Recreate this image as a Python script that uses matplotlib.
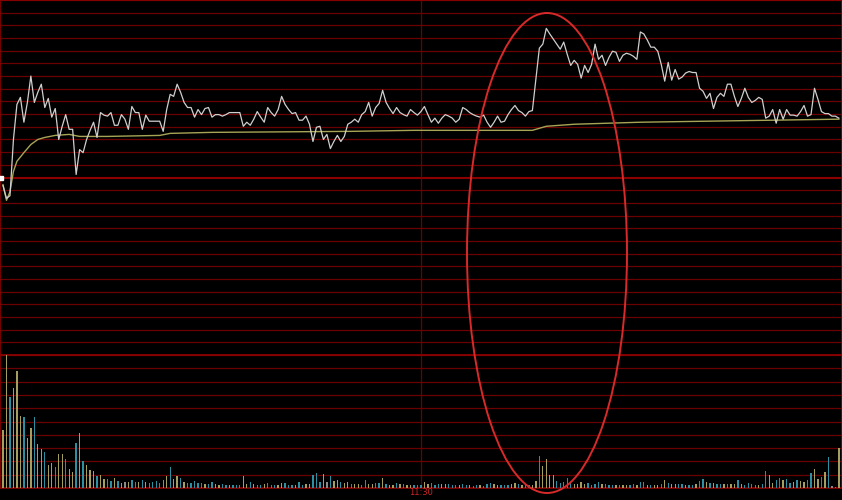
import matplotlib.pyplot as plt
from matplotlib.patches import Ellipse

# intraday price, % change vs previous close, one value per minute (241 minutes)
price = [
    -0.16, -0.41, -0.36, 0.75, 1.44, 1.58, 1.09, 1.48, 2.00, 1.48,
    1.68, 1.84, 1.38, 1.56, 1.19, 1.36, 0.75, 1.01, 1.24, 0.95,
    0.95, 0.06, 0.55, 0.49, 0.75, 0.93, 1.09, 0.79, 1.28, 1.23,
    1.21, 1.28, 1.03, 1.03, 1.24, 1.15, 0.95, 1.40, 1.28, 1.28,
    0.95, 1.23, 1.11, 1.11, 1.11, 1.11, 0.91, 1.34, 1.64, 1.60,
    1.84, 1.68, 1.48, 1.38, 1.38, 1.19, 1.34, 1.24, 1.36, 1.38,
    1.19, 1.24, 1.24, 1.21, 1.24, 1.28, 1.28, 1.28, 1.28, 1.01,
    1.09, 1.03, 1.15, 1.30, 1.19, 1.09, 1.38, 1.28, 1.21, 1.34,
    1.60, 1.44, 1.34, 1.26, 1.28, 1.13, 1.13, 1.21, 1.05, 0.71,
    0.99, 1.01, 0.75, 0.85, 0.57, 0.71, 0.83, 0.71, 0.81, 1.05,
    1.09, 1.15, 1.09, 1.24, 1.30, 1.48, 1.21, 1.38, 1.46, 1.72,
    1.48, 1.36, 1.26, 1.38, 1.28, 1.24, 1.21, 1.34, 1.28, 1.23,
    1.30, 1.40, 1.24, 1.09, 1.17, 1.07, 1.17, 1.24, 1.21, 1.17,
    1.09, 1.15, 1.38, 1.34, 1.28, 1.24, 1.21, 1.19, 1.23, 1.09,
    0.99, 1.09, 1.21, 1.09, 1.11, 1.24, 1.34, 1.42, 1.32, 1.28,
    1.21, 1.30, 1.32, 1.94, 2.55, 2.63, 2.94, 2.83, 2.73, 2.63,
    2.53, 2.67, 2.43, 2.21, 2.31, 2.23, 1.96, 2.21, 2.07, 2.23,
    2.63, 2.33, 2.41, 2.21, 2.37, 2.49, 2.47, 2.29, 2.41, 2.45,
    2.43, 2.39, 2.33, 2.87, 2.83, 2.71, 2.57, 2.57, 2.49, 2.23,
    1.90, 2.27, 1.92, 2.13, 1.94, 1.98, 2.06, 2.09, 2.07, 2.07,
    1.76, 1.70, 1.56, 1.66, 1.36, 1.58, 1.66, 1.60, 1.84, 1.84,
    1.60, 1.40, 1.56, 1.76, 1.58, 1.48, 1.52, 1.58, 1.54, 1.17,
    1.21, 1.34, 1.07, 1.34, 1.15, 1.34, 1.23, 1.23, 1.21, 1.30,
    1.42, 1.21, 1.24, 1.76, 1.54, 1.30, 1.26, 1.26, 1.21, 1.21,
    1.17,
]

# average price line, read at these minutes
avg_min = [0, 1, 2, 3, 4, 6, 8, 10, 12, 15, 19, 22, 30, 45, 48, 60,
           100, 118, 152, 156, 164, 183, 202, 221, 240]
avg_val = [-0.14, -0.45, -0.28, 0.12, 0.32, 0.49, 0.65, 0.75, 0.79, 0.83,
           0.85, 0.81, 0.81, 0.83, 0.87, 0.89, 0.91, 0.93, 0.93, 1.01,
           1.05, 1.09, 1.11, 1.13, 1.15]

# volume per minute
volume = [
    58, 132, 90, 99, 116, 71, 70, 50, 60, 70, 44, 39, 36, 23, 25, 21, 34, 34, 29, 19,
    16, 45, 55, 27, 23, 18, 17, 12, 13, 9, 9, 7, 10, 7, 5, 6, 6, 8, 6, 6,
    8, 6, 5, 6, 7, 5, 8, 12, 21, 9, 12, 10, 6, 5, 5, 7, 5, 5, 4, 4,
    6, 4, 3, 4, 3, 3, 3, 3, 3, 12, 4, 6, 4, 3, 3, 4, 5, 3, 3, 3,
    5, 5, 3, 3, 3, 6, 3, 4, 4, 13, 15, 6, 14, 6, 12, 7, 8, 6, 5, 6,
    4, 4, 4, 3, 8, 4, 4, 5, 5, 10, 4, 3, 3, 5, 4, 4, 3, 3, 3, 3,
    3, 6, 4, 5, 3, 4, 4, 4, 4, 3, 3, 3, 4, 3, 3, 2, 3, 3, 2, 4,
    5, 4, 3, 3, 3, 3, 4, 5, 4, 3, 3, 3, 3, 7, 32, 22, 29, 13, 13, 7,
    5, 6, 10, 6, 4, 4, 6, 4, 5, 3, 4, 6, 4, 4, 3, 3, 3, 3, 3, 3,
    3, 4, 3, 6, 6, 3, 3, 3, 3, 4, 8, 5, 4, 4, 4, 4, 3, 3, 3, 4,
    7, 9, 6, 5, 5, 4, 4, 4, 4, 4, 4, 8, 4, 3, 5, 4, 3, 3, 4, 17,
    13, 5, 8, 10, 8, 9, 5, 6, 8, 7, 6, 8, 15, 19, 9, 11, 16, 31, 2, 1,
    40,
]

# bar colour per minute: u = up, d = down, f = flat
vol_dir = (
    "uuduuuduuduuduuduuduudud uuuduuddudu fuddudu dddd fudu"
    "udu dddddudduudduddduudud duddduuddd udduuddduf"
    "duuduu duudduu ddudu ududuudd duudd duudd dudd ud"
    "duddduuddduududd uuduuuuddddduuuuddd duddduduuddu"
    "dduduududuu ddudduddudu dduduudud dddudduuddudduduudduud"
    "udfduuduudddffdd"
).replace(" ", "")

times = ["11:30"]

bg = "#000000"
grid_red = "#6a0000"
axis_red = "#8c0000"
price_col = "#cfcfcf"
avg_col = "#a8a455"
up_col = "#a49f5e"
down_col = "#2e8fa3"
flat_col = "#8a8a8a"

fig = plt.figure(figsize=(8.42, 5.0), dpi=100, facecolor=bg)
ax = fig.add_axes([0, 0.29, 1, 0.71])
axv = fig.add_axes([0, 0.024, 1, 0.266])

minutes = list(range(len(price)))
xlim = (-0.86, 240.9)

for a in (ax, axv):
    a.set_facecolor(bg)
    a.set_xlim(*xlim)
    a.set_xticks([])
    a.set_yticks([])
    for s in a.spines.values():
        s.set_color(axis_red)
        s.set_linewidth(1.2)

# price pane grid: 28 bands of 0.25%
ax.set_ylim(-3.5, 3.5)
for k in range(-14, 15):
    lw = 1.5 if k == 0 else 0.9
    col = axis_red if k == 0 else grid_red
    ax.axhline(k * 0.25, color=col, lw=lw, zorder=1)
ax.axvline(120, color=grid_red, lw=0.9, zorder=1)

ax.plot(avg_min, avg_val, color=avg_col, lw=1.0, zorder=3)
ax.plot(minutes, price, color=price_col, lw=0.9, zorder=4)
ax.plot([xlim[0] + 0.3], [0], marker="s", ms=2.5, color="white", clip_on=False, zorder=5)

# volume pane grid: 10 bands
axv.set_ylim(0, 132)
for k in range(11):
    axv.axhline(k * 13.2, color=grid_red, lw=0.9, zorder=1)
axv.axvline(120, color=grid_red, lw=0.9, zorder=1)
axv.spines["top"].set_linewidth(1.3)
ax.spines["bottom"].set_visible(False)

cmap = {"u": up_col, "d": down_col, "f": flat_col}
colors = [cmap[c] for c in vol_dir[:len(volume)]]
colors += [down_col] * (len(volume) - len(colors))
axv.bar(minutes, volume, width=0.38, color=colors, linewidth=0, zorder=3)

fig.text(421 / 842, 0.015, times[0], color="#d02525", fontsize=6,
         ha="center", va="center")

# hand-drawn highlight ellipse
fig.patches.append(Ellipse((547 / 842, 1 - 253 / 500), 160 / 842, 480 / 500,
                           transform=fig.transFigure, fill=False,
                           edgecolor="#d82a2a", lw=1.4, zorder=10))

fig.savefig("out.png", dpi=100, facecolor=bg)
